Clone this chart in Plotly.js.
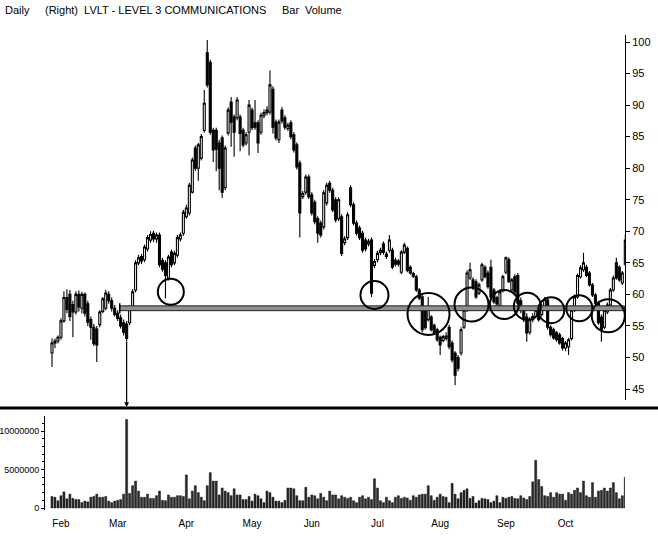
<!DOCTYPE html>
<html>
<head>
<meta charset="utf-8">
<script src="https://cdn.plot.ly/plotly-3.0.1.min.js"></script>
<style>html,body{margin:0;padding:0;background:#fff;}#chart{width:658px;height:537px;}</style>
</head>
<body>
<div id="chart"></div>
<script>
// ---- data (one entry per trading day, late Jan .. end Oct) ----
const openP = [50.7,52.3,52.6,53.2,55.8,59.5,60,58.4,57.2,60,57.8,60,58.5,56,54.8,54.5,55.2,57.3,57.8,60,
59,57.8,57,56.3,55.5,55.3,55.5,57.8,60.7,65,66,65.5,67.2,68.6,69.7,68.8,69.4,65.4,65,62.6,
66.7,65,66.2,68.8,69.7,72.3,72.9,76.2,83.2,80,81.6,86,98.3,96.8,86,86,84,84.8,76.9,85.6,
90.5,88.1,88,88.1,86,84,85.7,89.2,87.2,87.2,85.7,88.3,88.8,88.9,92.5,87.3,84.5,89.2,88,86.3,
87.2,85.3,83.7,80.8,75.5,76.2,78.6,75.8,74.6,72,71.3,70.7,74.5,77.6,76.5,75,72,72.3,68.2,69,
76.9,74.2,71.3,70.5,69.7,68.6,68,68.6,64.6,65.5,66.6,68,66.4,67,67,65.4,65.3,63.5,66.7,67.3,
64.3,63.3,62.8,60.7,59.6,57.5,56,56.4,55.1,54.4,53.2,52.7,53,54.8,52.3,50.7,50,50.7,54.8,57.5,
62.6,62.3,62,60.2,62.3,64.3,63.4,64.3,60.7,59.5,58.2,60.6,63.5,65.5,60.7,62.8,63,59,57.5,56.4,
54,56,56.5,57.2,56.8,57.8,59.1,54.8,54.4,53.9,53.6,53,51.5,51.7,53,57.5,59.6,62.8,63.9,64.3,
63.4,61.5,59.9,58.6,56.4,54.8,57.2,58.3,60.7,65,64.3,61.8,64.8];
const highP = [53,53,53.5,56.2,60.5,60.8,60.7,59,60.5,60.6,60.4,60.3,59,56.5,55.3,55,57.5,59.6,60.7,60.5,
59.5,58.3,57.5,56.8,56,55.8,58.2,60.8,65.4,66.3,66.4,67.9,69.4,70,70.1,69.8,69.8,65.8,65.4,66.3,
67.1,66.9,69.4,69.8,73.4,74.2,77.7,81.7,83.6,84,85.4,92.4,100.3,97.2,86.4,86.4,84.5,85.2,83.6,89.6,
91.3,88.5,91.3,88.5,86.4,85.7,90.8,89.6,90.8,87.6,88.8,89.3,89.8,95.5,93,87.7,87.7,89.7,88.4,87.2,
87.6,85.7,84.1,81.2,76.4,79,79,76.2,75,72.4,71.7,76.5,77.7,78,76.9,75.4,75.4,72.7,69.2,73,
77.3,74.6,71.7,70.9,70.1,69,68.8,69,65.6,66.9,67.4,68.4,66.8,69.4,67.4,65.8,65.6,67,68.2,67.6,
64.6,63.6,63.1,61,60,57.9,59.6,56.7,55.4,54.7,53.5,53.6,54,55.2,52.7,51,50.4,54.8,57.9,63.8,
65,62.7,62.4,61.9,65,64.6,63.8,65.5,61,59.8,60.8,63.1,66,65.9,62.6,63.2,63.4,59.5,58,57,
56.4,57,58,57.6,58.5,59.6,59.4,55.1,54.7,54.2,53.9,53.3,52.6,53.1,57.8,60,63.3,64.6,66.6,64.7,
63.7,61.8,60.2,59,56.8,57.9,58.7,61,63,65.8,64.6,63.7,69.5];
const lowP = [48.5,51.5,52.2,52.8,55.5,57,55.8,53.2,56.8,57.3,57,56.5,55,52.8,51.8,49.3,54.8,57,57.5,58.5,
57.3,56.5,55.8,54.6,53.5,52.6,55.1,57.4,60.3,64.6,64.8,65.1,66.8,68.2,68.3,68.2,64.3,63.6,59.4,62.2,
64.3,64.6,65.8,68.4,69.3,72,72.5,76,79.6,78,81.2,85.6,92.8,85.3,81,79.5,76.5,75.3,76.5,85.2,
83.4,81.8,87.6,82.7,83.3,83.6,82,86,86.1,82.4,85.3,87.9,88.4,88.5,85.5,84.4,84,87.1,86.1,85.9,
84.6,82.5,79.8,69,75.1,75.8,75.1,72.5,71.1,68.2,69,70.3,74.1,76.1,73,71.4,71.6,66.1,67.8,68.6,
73.8,70.9,69.3,68.6,66.6,66.8,67.6,59.6,64.2,65.1,66.2,66.3,65.6,66.6,64,64.4,64.4,63.2,66.4,63.5,
63.1,62.6,60.4,59.1,54,54.4,55.7,54.1,53.6,52.5,50.4,52.4,52.7,51.3,49.2,45.6,47.8,50.3,54.5,57.2,
62.3,60.7,59.3,59.9,62,62.5,60.9,59.3,58.5,58.1,57.9,60.3,63.2,61.8,60.4,60,58.2,57,55.6,52.5,
53.6,55.6,56.2,55.7,56.5,57.5,54.4,53.3,52.8,52.5,52,51.1,51,50.4,52.7,57.2,59.3,62.5,63.6,62.7,
61.2,59.6,58.3,55.2,52.5,54.5,56.9,58,60.4,62.3,62,61.5,64.5];
const closeP = [52.3,52.6,53.2,55.8,59.5,57.6,56.5,57.2,60,58,60,57,55.6,54.8,52.2,52,57.2,59.3,60.2,59,
57.8,56.8,56.2,55,54,53,57.8,60.4,65,65.8,65.3,67.5,69,69.5,68.8,69.4,64.7,64,63,65.9,
64.7,66.5,69,69.4,73,73.7,77.3,81.3,80,83.7,85,90.3,93.2,85.7,82.9,83,80,76.2,83.2,89.2,
87.3,85.7,90.8,85.5,83.7,85.3,90,86.4,86.5,84,88.4,88.8,89.2,93.2,86.5,84.8,87.3,87.5,86.5,86.8,
85,82.9,80.2,72.9,76,78.6,75.5,72.9,71.5,69.7,69.4,76.1,77.3,76.5,73.4,71.8,75,66.5,68.8,72.6,
74.2,71.3,69.7,69,67,67.2,68.4,60.2,65.2,66.5,67,66.7,66,68.6,64.3,64.8,64.8,66.7,67.8,63.8,
63.4,62.9,60.7,59.4,54.4,54.7,58,54.4,53.9,52.8,52,53.3,53.4,51.7,49.6,47.2,48.3,54.4,57.5,63.4,
63.9,61,59.6,61.5,64.7,62.8,61.2,59.6,58.8,58.5,60.4,62.8,65.8,62,62.3,60.4,58.6,57.5,56,53.9,
56,56.5,57.5,56,58,59.2,54.8,53.6,53.1,52.8,52.3,51.5,52.3,52.8,57.5,59.6,63,64.2,65,63,
61.5,59.9,58.6,55.5,54.4,57.5,58.3,60.7,62.6,62.6,62.3,63.4,68.6];
const volume = [1.5e6,1.4e6,0.95e6,1.6e6,2.1e6,1.2e6,1.8e6,1.25e6,1.1e6,1.1e6,0.7e6,0.9e6,0.8e6,1.4e6,1.5e6,1.8e6,1.4e6,1.4e6,1.5e6,0.9e6,
0.7e6,0.9e6,1.0e6,1.1e6,1.8e6,11.5e6,1.9e6,2.9e6,3.5e6,2.2e6,1.4e6,1.4e6,1.8e6,1.25e6,1.25e6,1.6e6,2.2e6,1.0e6,0.95e6,1.7e6,
1.4e6,1.4e6,1.6e6,1.6e6,1.5e6,4.3e6,1.2e6,2.2e6,2.9e6,2.0e6,1.4e6,0.95e6,2.9e6,4.6e6,3.5e6,3.5e6,1.7e6,2.6e6,2.2e6,2.0e6,
1.6e6,2.5e6,1.7e6,1.7e6,1.1e6,1.1e6,1.5e6,0.9e6,1.8e6,1.6e6,1.2e6,0.7e6,2.2e6,2.0e6,1.4e6,0.9e6,0.9e6,0.7e6,1.0e6,2.6e6,
2.6e6,2.5e6,1.6e6,0.95e6,0.95e6,2.7e6,1.4e6,1.7e6,1.6e6,1.2e6,1.9e6,1.4e6,0.95e6,2.2e6,1.7e6,1.7e6,1.2e6,1.6e6,1.4e6,1.25e6,
1.4e6,0.95e6,0.7e6,1.4e6,1.6e6,1.2e6,1.4e6,1.1e6,3.8e6,2.6e6,0.95e6,0.7e6,1.4e6,0.95e6,0.7e6,1.4e6,1.6e6,1.25e6,1.4e6,1.3e6,
1.0e6,1.6e6,1.4e6,1.7e6,1.8e6,1.8e6,2.9e6,1.6e6,1.0e6,1.4e6,1.8e6,1.5e6,1.4e6,0.7e6,3.2e6,1.8e6,1.2e6,2.0e6,2.3e6,2.5e6,
1.25e6,1.5e6,0.65e6,0.95e6,1.25e6,1.2e6,1.1e6,0.7e6,0.9e6,1.6e6,0.7e6,1.4e6,1.25e6,1.4e6,1.5e6,1.25e6,1.2e6,1.6e6,1.3e6,1.1e6,
1.5e6,3.4e6,6.2e6,3.7e6,2.8e6,1.6e6,1.5e6,2.0e6,1.4e6,2.0e6,1.8e6,1.8e6,1.0e6,2.0e6,1.8e6,2.3e6,2.6e6,2.0e6,3.5e6,1.6e6,
1.4e6,3.3e6,1.4e6,2.2e6,2.3e6,2.6e6,2.2e6,2.6e6,3.3e6,2.0e6,1.2e6,1.6e6,4.0e6];
const monthLabels = ["Feb","Mar","Apr","May","Jun","Jul","Aug","Sep","Oct"];
const monthTickIdx = [3,22,45,67,87,109,130,152,172];
const priceTicks = [45,50,55,60,65,70,75,80,85,90,95,100];
const volumeTicks = [0,5000000,10000000];
const volumeTickText = ["0","5000000","10000000"];
// annotation marks (support level and circled tests)
const supportLevel = 57.8;
const supportFrom = 22.7, supportTo = 191.7;
const circleIdx   = [39.8,108,126.1,140.5,151.5,159.2,167.2,176.6,186.3];
const circlePrice = [60.4,59.9,56.9,58.4,58.4,58.1,57.5,57.8,56.6];
const circleRadius= [13,14,21,17,14.5,13.5,13,13,16.5];
const arrowIdx = 25, arrowFromPrice = 52.8;

const idx = openP.map((_, i) => i);
const W = 658, H = 537;
const px = v => v / W, py = v => 1 - v / H;
const FONT = "Arial, 'Liberation Sans', sans-serif";

const candles = {
  type: 'candlestick', x: idx, open: openP, high: highP, low: lowP, close: closeP,
  xaxis: 'x', yaxis: 'y',
  increasing: {line: {color: '#000', width: 1.1}, fillcolor: '#ffffff'},
  decreasing: {line: {color: '#000', width: 1.1}, fillcolor: '#000000'},
  whiskerwidth: 0, hoverinfo: 'skip', showlegend: false
};
const vol = {
  type: 'bar', x: idx, y: volume, xaxis: 'x2', yaxis: 'y2',
  marker: {color: '#2a2a2a', line: {color: '#000', width: 0.4}}, showlegend: false, hoverinfo: 'skip'
};

const xr = [-2.34, 191.9];
const shapes = [
  {type: 'rect', xref: 'x', yref: 'y', x0: supportFrom, x1: supportTo,
   y0: supportLevel - 0.38, y1: supportLevel + 0.38, fillcolor: '#8f8f8f',
   line: {color: '#222', width: 1}, layer: 'above'},
  {type: 'line', xref: 'x', yref: 'y', x0: supportFrom, x1: supportFrom,
   y0: supportLevel - 0.8, y1: supportLevel + 0.8, line: {color: '#000', width: 1.5}, layer: 'above'},
  {type: 'line', xref: 'paper', yref: 'paper', x0: 0, x1: 1, y0: py(408), y1: py(408),
   line: {color: '#000', width: 3}}
];
circleIdx.forEach((c, k) => {
  shapes.push({type: 'circle', xref: 'x', yref: 'y', xsizemode: 'pixel', ysizemode: 'pixel',
    xanchor: c, yanchor: circlePrice[k],
    x0: -circleRadius[k], x1: circleRadius[k], y0: -circleRadius[k], y1: circleRadius[k],
    line: {color: '#000', width: 2}, layer: 'above'});
});

const annotations = [
  {xref: 'paper', yref: 'paper', x: px(3), y: py(10), xanchor: 'left', yanchor: 'middle', showarrow: false,
   text: 'Daily', font: {family: FONT, size: 11, color: '#000'}},
  {xref: 'paper', yref: 'paper', x: px(43), y: py(10), xanchor: 'left', yanchor: 'middle', showarrow: false,
   text: '(Right)  LVLT - LEVEL 3 COMMUNICATIONS', font: {family: FONT, size: 11, color: '#000'}},
  {xref: 'paper', yref: 'paper', x: px(280), y: py(10), xanchor: 'left', yanchor: 'middle', showarrow: false,
   text: 'Bar', font: {family: FONT, size: 11, color: '#000'}},
  {xref: 'paper', yref: 'paper', x: px(303), y: py(10), xanchor: 'left', yanchor: 'middle', showarrow: false,
   text: 'Volume', font: {family: FONT, size: 11, color: '#000'}},
  {xref: 'x', yref: 'paper', x: arrowIdx, y: py(407), ax: 0, ay: -(407 - (42 + (100 - arrowFromPrice) * 6.31)),
   axref: 'pixel', ayref: 'pixel', showarrow: true, arrowhead: 2, arrowsize: 0.8, arrowwidth: 1.2,
   arrowcolor: '#000', text: ''}
];

const layout = {
  width: W, height: H, margin: {l: 0, r: 0, t: 0, b: 0},
  paper_bgcolor: '#fff', plot_bgcolor: '#fff', showlegend: false,
  font: {family: FONT, size: 11, color: '#000'},
  bargap: 0.3, boxgap: 0.05,
  xaxis: {domain: [px(45), px(625)], range: xr, showgrid: false, zeroline: false, showticklabels: false,
          ticks: '', showline: false, rangeslider: {visible: false}, fixedrange: true},
  yaxis: {domain: [py(400), py(35)], range: [43.26, 101.11], side: 'right', anchor: 'x',
          showline: true, linecolor: '#000', linewidth: 1, ticks: 'outside', ticklen: 4, tickcolor: '#000',
          tickvals: priceTicks, ticktext: priceTicks.map(String), showgrid: false, zeroline: false,
          tickfont: {family: FONT, size: 11, color: '#000'}},
  xaxis2: {domain: [px(45), px(625)], range: xr, anchor: 'y2', showgrid: false, zeroline: false,
           tickvals: monthTickIdx, ticktext: monthLabels, ticks: '', showline: false, ticklabelstandoff: 6,
           tickfont: {family: FONT, size: 10, color: '#000'}},
  yaxis2: {domain: [py(510), py(416)], range: [-0.26e6, 11.95e6], anchor: 'x2', side: 'left',
           showline: true, linecolor: '#000', linewidth: 1, ticks: 'outside', ticklen: 3, tickcolor: '#000',
           tickvals: volumeTicks, ticktext: volumeTickText, showgrid: false, zeroline: false,
           minor: {ticks: 'outside', ticklen: 2, tickcolor: '#000', dtick: 1000000, tick0: 0},
           tickfont: {family: FONT, size: 9, color: '#000'}},
  shapes: shapes, annotations: annotations
};

Plotly.newPlot('chart', [candles, vol], layout, {staticPlot: true, displayModeBar: false});
</script>
</body>
</html>
